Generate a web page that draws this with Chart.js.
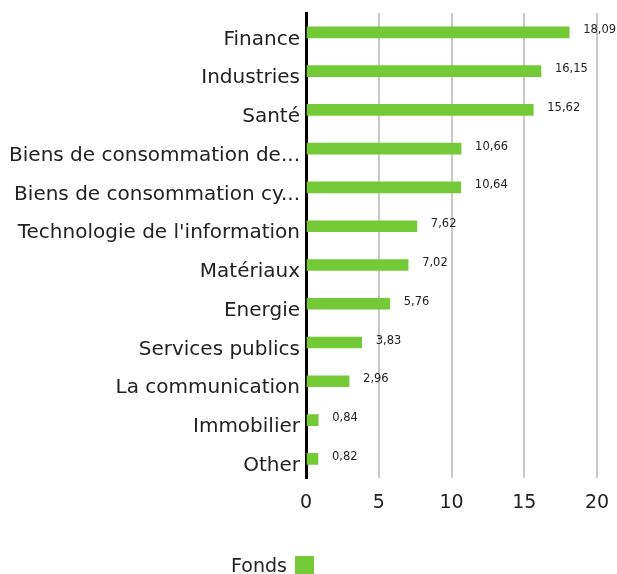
<!DOCTYPE html>
<html>
  <head>
    <meta charset="utf-8" />
    <title>Fonds</title>
    <script src="https://cdn.jsdelivr.net/npm/chart.js"></script>
    <style>
      body { margin: 0; background: #fff; }
      #wrap { position: relative; width: 617px; height: 574px; }
      #legend {
        position: absolute; left: 231px; top: 554px;
        font: 19px "DejaVu Sans", sans-serif; color: #222;
        display: flex; align-items: center;
      }
      #legend span.box {
        display: inline-block; width: 19px; height: 19px;
        background: #73c936; margin-left: 8px;
      }
    </style>
  </head>
  <body>
    <div id="wrap">
      <canvas id="sectorChart" width="617" height="574"></canvas>
      <div id="legend">Fonds<span class="box"></span></div>
    </div>

    <script>
      const sectors = [
        "Finance",
        "Industries",
        "Santé",
        "Biens de consommation de...",
        "Biens de consommation cy...",
        "Technologie de l'information",
        "Matériaux",
        "Energie",
        "Services publics",
        "La communication",
        "Immobilier",
        "Other",
      ];
      const fondsValues = [18.09, 16.15, 15.62, 10.66, 10.64, 7.62, 7.02, 5.76, 3.83, 2.96, 0.84, 0.82];
      const xTicks = [0, 5, 10, 15, 20];

      // draws the value next to each bar, with a comma as decimal mark
      const valueLabels = {
        id: "valueLabels",
        afterDatasetsDraw(chart) {
          const ctx = chart.ctx;
          const meta = chart.getDatasetMeta(0);
          ctx.save();
          ctx.font = "11.5px 'DejaVu Sans', sans-serif";
          ctx.fillStyle = "#222";
          ctx.textBaseline = "middle";
          meta.data.forEach((bar, i) => {
            const txt = fondsValues[i].toFixed(2).replace(".", ",");
            ctx.fillText(txt, bar.x + 14, bar.y - 2);
          });
          ctx.restore();
        },
      };

      new Chart(document.getElementById("sectorChart"), {
        type: "bar",
        data: {
          labels: sectors,
          datasets: [
            {
              label: "Fonds",
              data: fondsValues,
              backgroundColor: "#73c936",
              barThickness: 11,
            },
          ],
        },
        options: {
          indexAxis: "y",
          responsive: false,
          animation: false,
          layout: { padding: { top: 13, right: 20, bottom: 47, left: 8 } },
          plugins: {
            legend: { display: false },
            tooltip: { enabled: false },
          },
          scales: {
            x: {
              min: 0,
              max: 20,
              afterBuildTicks: (axis) => {
                axis.ticks = xTicks.map((v) => ({ value: v }));
              },
              afterFit: (scale) => {
                scale.paddingRight = 0;
              },
              grid: { color: "#c8c8c8", lineWidth: 2, drawTicks: false },
              border: { display: false },
              ticks: {
                color: "#222",
                font: { family: "DejaVu Sans", size: 19 },
                padding: 13,
              },
            },
            y: {
              afterFit: (scale) => {
                scale.width = 298; // labels are wider than the default half-width cap
                scale.paddingTop = 0;
                scale.paddingBottom = 0;
              },
              grid: { display: false, drawTicks: false },
              border: { color: "#000", width: 3 },
              ticks: {
                color: "#222",
                font: { family: "DejaVu Sans", size: 20 },
                labelOffset: 7,
                padding: 6,
                autoSkip: false,
              },
            },
          },
        },
        plugins: [valueLabels],
      });
    </script>
  </body>
</html>
